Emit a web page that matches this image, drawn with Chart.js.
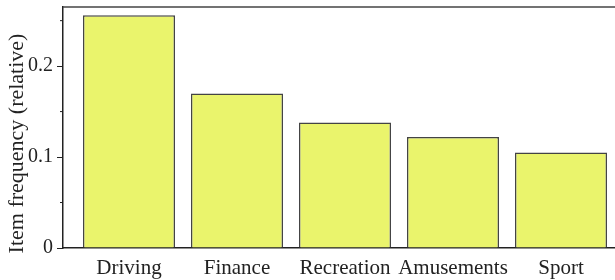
<!DOCTYPE html>
<html lang="en">
<head>
  <meta charset="UTF-8" />
  <title>Item frequency</title>
  <style>
    html, body { margin: 0; padding: 0; background: #fff; overflow: hidden; }
    #wrap { width: 615px; height: 280px; }
  </style>
</head>
<body>
  <div id="wrap">
    <canvas id="chart" width="615" height="280"></canvas>
  </div>

  <script src="https://cdn.jsdelivr.net/npm/chart.js"></script>
  <script>
    const categories = ['Driving', 'Finance', 'Recreation', 'Amusements', 'Sport'];
    const frequencies = [0.256, 0.170, 0.138, 0.122, 0.105];
    const yTicks = [0, 0.05, 0.1, 0.15, 0.2, 0.25];
    const yLabels = { 0: '0', 0.1: '0.1', 0.2: '0.2' };
    const yTitle = 'Item frequency (relative)';

    const fontFamily = '"Liberation Serif", "Times New Roman", serif';
    const ink = '#222';
    const lineColor = '#444';

    // marco superior, ticks menores cortos y titulo del eje Y
    const decor = {
      id: 'decor',
      afterDraw(chart) {
        const { ctx, chartArea, scales } = chart;
        ctx.save();
        ctx.strokeStyle = lineColor;
        ctx.lineWidth = 1.5;
        ctx.beginPath();
        ctx.moveTo(chartArea.left, chartArea.top);
        ctx.lineTo(chartArea.right, chartArea.top);
        ctx.stroke();

        ctx.lineWidth = 1;
        ctx.strokeStyle = ink;
        scales.y.ticks.forEach(t => {
          if (yLabels[t.value] !== undefined) return;
          const py = scales.y.getPixelForValue(t.value);
          ctx.beginPath();
          ctx.moveTo(chartArea.left - 3, py);
          ctx.lineTo(chartArea.left, py);
          ctx.stroke();
        });

        ctx.translate(17, (chartArea.top + chartArea.bottom) / 2 + 16);
        ctx.rotate(-Math.PI / 2);
        ctx.fillStyle = ink;
        ctx.font = '22px ' + fontFamily;
        ctx.textAlign = 'center';
        ctx.textBaseline = 'middle';
        ctx.fillText(yTitle, 0, 0);
        ctx.restore();
      }
    };

    const ctx = document.getElementById('chart').getContext('2d');
    new Chart(ctx, {
      type: 'bar',
      data: {
        datasets: [{
          data: frequencies.map((v, i) => ({ x: i, y: v })),
          backgroundColor: '#eaf46c',
          borderColor: lineColor,
          borderWidth: 1.5,
          barPercentage: 0.852,
          categoryPercentage: 1
        }]
      },
      options: {
        responsive: false,
        animation: false,
        layout: { padding: { top: 7, right: 0, left: 0, bottom: 0 } },
        plugins: { legend: { display: false }, tooltip: { enabled: false } },
        scales: {
          x: {
            type: 'linear',
            min: -0.611,
            max: 4.5,
            offset: false,
            afterBuildTicks: s => { s.ticks = categories.map((_, i) => ({ value: i })); },
            afterFit: s => { s.height = 32; s.paddingLeft = 0; s.paddingRight = 0; },
            grid: { display: false, offset: false },
            border: { display: true, color: ink, width: 1.5 },
            ticks: {
              padding: 0,
              color: ink,
              maxRotation: 0,
              autoSkip: false,
              font: { family: fontFamily, size: 21 },
              callback: v => categories[v]
            }
          },
          y: {
            min: 0,
            max: 0.265,
            afterBuildTicks: s => { s.ticks = yTicks.map(v => ({ value: v })); },
            afterFit: s => { s.width = 63; s.paddingTop = 0; s.paddingBottom = 0; },
            grid: {
              drawOnChartArea: false,
              drawTicks: true,
              tickLength: 6,
              tickColor: c => (yLabels[c.tick && c.tick.value] !== undefined ? ink : 'transparent')
            },
            border: { display: true, color: ink, width: 1.5 },
            ticks: {
              padding: 4,
              color: ink,
              font: { family: fontFamily, size: 20 },
              callback: v => (yLabels[v] !== undefined ? yLabels[v] : '')
            }
          }
        }
      },
      plugins: [decor]
    });
  </script>
</body>
</html>
